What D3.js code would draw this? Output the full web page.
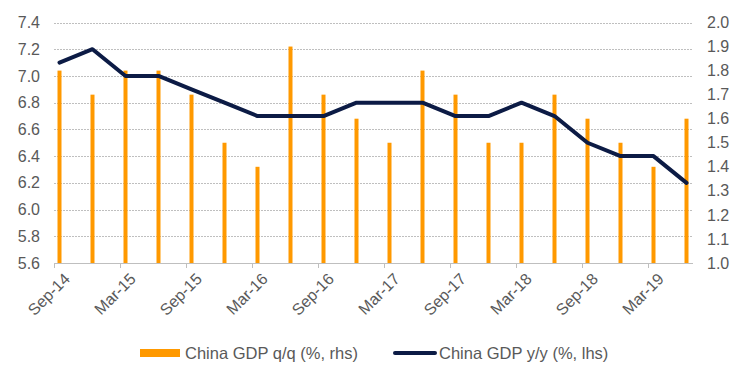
<!DOCTYPE html>
<html>
<head>
<meta charset="utf-8">
<script src="https://cdn.jsdelivr.net/npm/d3@7"></script>
<style>
html,body{margin:0;padding:0;background:#fff;}
svg{display:block;font-family:"Liberation Sans",Arial,sans-serif;}
</style>
</head>
<body>
<svg id="chart" width="744" height="381"></svg>
<script>
const quarters = ["Sep-14","Dec-14","Mar-15","Jun-15","Sep-15","Dec-15","Mar-16","Jun-16","Sep-16","Dec-16",
                  "Mar-17","Jun-17","Sep-17","Dec-17","Mar-18","Jun-18","Sep-18","Dec-18","Mar-19","Jun-19"];
const gdpQoQ = [1.8,1.7,1.8,1.8,1.7,1.5,1.4,1.9,1.7,1.6,1.5,1.8,1.7,1.5,1.5,1.7,1.6,1.5,1.4,1.6];
const gdpYoY = [7.1,7.2,7.0,7.0,6.9,6.8,6.7,6.7,6.7,6.8,6.8,6.8,6.7,6.7,6.8,6.7,6.5,6.4,6.4,6.2];
const xTickLabels = ["Sep-14","Mar-15","Sep-15","Mar-16","Sep-16","Mar-17","Sep-17","Mar-18","Sep-18","Mar-19"];
const leftTicks = [5.6,5.8,6.0,6.2,6.4,6.6,6.8,7.0,7.2,7.4];
const rightTicks = [1.0,1.1,1.2,1.3,1.4,1.5,1.6,1.7,1.8,1.9,2.0];
const seriesNames = ["China GDP q/q (%, rhs)","China GDP y/y (%, lhs)"];

(function () {
const svg = d3.select("#chart");
const textColor = "#595959", gridColor = "#bfbfbf", barColor = "#FF9900", lineColor = "#0C1B45";
const pLeft = 54, pRight = 692, pTop = 22.5, pBottom = 263;
const fs = 16;

const parse = d3.timeParse("%b-%y");
const start = parse(quarters[0]);
const monthIdx = s => { const d = parse(s); return (d.getFullYear() - start.getFullYear()) * 12 + d.getMonth() - start.getMonth(); };
const nMonths = monthIdx(quarters[quarters.length - 1]) + 1;

const x = d3.scaleLinear().domain([0, nMonths]).range([pLeft, pRight]);
const yL = d3.scaleLinear().domain([5.6, 7.4]).range([pBottom, pTop]);
const yR = d3.scaleLinear().domain([1.0, 2.0]).range([pBottom, pTop]);

// gridlines
svg.append("g").selectAll("line").data(leftTicks.slice(1)).join("line")
  .attr("x1", pLeft).attr("x2", pRight + 1)
  .attr("y1", d => Math.round(yL(d)) + 0.5).attr("y2", d => Math.round(yL(d)) + 0.5)
  .attr("stroke", gridColor).attr("stroke-width", 1).attr("stroke-dasharray", "2,1");

// bars
const bw = 4;
svg.append("g").selectAll("rect").data(quarters).join("rect")
  .attr("x", (d) => x(monthIdx(d) + 0.5) - bw / 2)
  .attr("width", bw)
  .attr("y", (d, i) => yR(gdpQoQ[i]))
  .attr("height", (d, i) => pBottom - yR(gdpQoQ[i]))
  .attr("fill", barColor);

// baseline
svg.append("line").attr("x1", pLeft).attr("x2", pRight + 1)
  .attr("y1", pBottom + 0.5).attr("y2", pBottom + 0.5)
  .attr("stroke", gridColor).attr("stroke-width", 1);

// x ticks
svg.append("g").selectAll("line").data(xTickLabels).join("line")
  .attr("x1", d => Math.round(x(monthIdx(d))) + 0.5).attr("x2", d => Math.round(x(monthIdx(d))) + 0.5)
  .attr("y1", pBottom).attr("y2", pBottom + 5)
  .attr("stroke", gridColor).attr("stroke-width", 1);

// x labels
svg.append("g").selectAll("text").data(xTickLabels).join("text")
  .attr("transform", d => `translate(${x(monthIdx(d)) + 9},${pBottom + 9}) rotate(-45)`)
  .attr("text-anchor", "end").attr("dy", "0.7em")
  .attr("font-size", fs).attr("fill", textColor)
  .text(d => d);

// line
const line = d3.line().x(d => x(monthIdx(d) + 0.5)).y((d, i) => yL(gdpYoY[i]));
svg.append("path").datum(quarters).attr("d", line)
  .attr("fill", "none").attr("stroke", lineColor).attr("stroke-width", 4)
  .attr("stroke-linejoin", "round").attr("stroke-linecap", "round");

// left axis labels
svg.append("g").selectAll("text").data(leftTicks).join("text")
  .attr("x", 40).attr("y", d => yL(d)).attr("dy", "0.35em")
  .attr("text-anchor", "end").attr("font-size", fs).attr("fill", textColor)
  .text(d => d.toFixed(1));

// right axis labels
svg.append("g").selectAll("text").data(rightTicks).join("text")
  .attr("x", 707).attr("y", d => yR(d)).attr("dy", "0.35em")
  .attr("text-anchor", "start").attr("font-size", fs).attr("fill", textColor)
  .text(d => d.toFixed(1));

// legend
const lg = svg.append("g");
lg.append("rect").attr("x", 140).attr("y", 349).attr("width", 40).attr("height", 8).attr("fill", barColor);
lg.append("text").attr("x", 185).attr("y", 353).attr("dy", "0.35em").attr("font-size", 16.5).attr("fill", textColor).text(seriesNames[0]);
lg.append("line").attr("x1", 395).attr("x2", 435).attr("y1", 353).attr("y2", 353)
  .attr("stroke", lineColor).attr("stroke-width", 4).attr("stroke-linecap", "round");
lg.append("text").attr("x", 439).attr("y", 353).attr("dy", "0.35em").attr("font-size", 16.5).attr("fill", textColor).text(seriesNames[1]);
})();
</script>
</body>
</html>
